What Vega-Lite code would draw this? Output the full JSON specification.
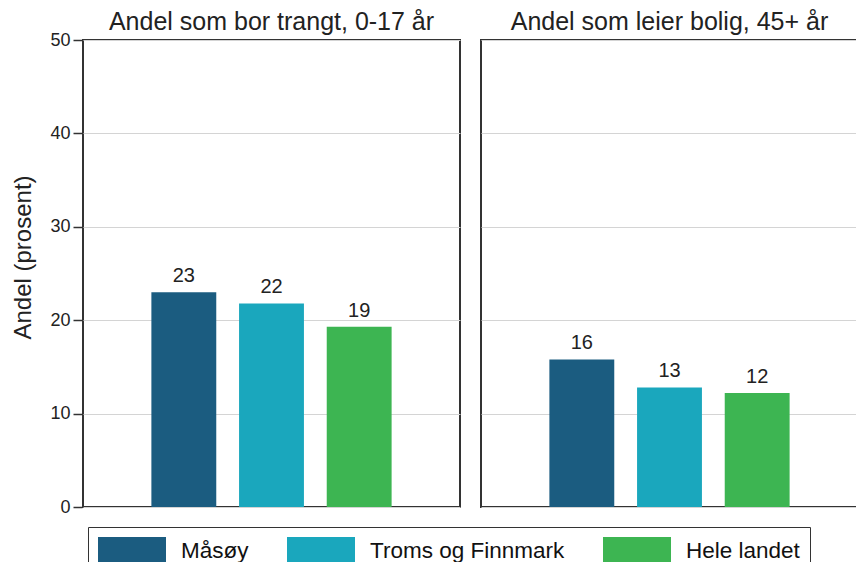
{
  "$schema": "https://vega.github.io/schema/vega-lite/v6.json",
  "background": "#ffffff",
  "padding": {"left": 11, "top": 10, "right": 0, "bottom": 0},
  "data": {"values": [
    {"panel": "Andel som bor trangt, 0-17 år", "region": "Måsøy", "value": 23.0},
    {"panel": "Andel som bor trangt, 0-17 år", "region": "Troms og Finnmark", "value": 21.8},
    {"panel": "Andel som bor trangt, 0-17 år", "region": "Hele landet", "value": 19.3},
    {"panel": "Andel som leier bolig, 45+ år", "region": "Måsøy", "value": 15.8},
    {"panel": "Andel som leier bolig, 45+ år", "region": "Troms og Finnmark", "value": 12.8},
    {"panel": "Andel som leier bolig, 45+ år", "region": "Hele landet", "value": 12.2}
  ]},
  "facet": {"column": {"field": "panel", "type": "nominal",
    "sort": ["Andel som bor trangt, 0-17 år", "Andel som leier bolig, 45+ år"],
    "header": {"title": null, "labelFontSize": 25, "labelFont": "Liberation Sans", "labelColor": "#222", "labelPadding": 4}}},
  "spacing": 19,
  "spec": {
    "width": 377,
    "height": 467,
    "encoding": {
      "x": {"field": "region", "type": "nominal", "sort": ["Måsøy", "Troms og Finnmark", "Hele landet"], "axis": null,
            "scale": {"paddingInner": 0.26, "paddingOuter": 0.78}},
      "y": {"field": "value", "type": "quantitative", "scale": {"domain": [0, 50]},
            "axis": {"title": "Andel (prosent)", "values": [0, 10, 20, 30, 40, 50], "titleFontSize": 24, "titleFontWeight": "normal",
                     "titleFont": "Liberation Sans", "titleColor": "#222", "titlePadding": 14, "titleY": 217,
                     "labelFont": "Liberation Sans", "labelFontSize": 18, "labelColor": "#222", "labelPadding": 3,
                     "domain": false, "ticks": true, "tickSize": 9, "tickColor": "#333", "tickWidth": 1.5,
                     "grid": true, "gridColor": "#d4d4d4", "gridWidth": 1}}
    },
    "layer": [
      {"mark": {"type": "bar"},
       "encoding": {"color": {"field": "region", "type": "nominal",
         "scale": {"domain": ["Måsøy", "Troms og Finnmark", "Hele landet"], "range": ["#1b5c80", "#1aa7bd", "#3db552"]},
         "legend": {"title": null, "orient": "none", "legendX": 5, "legendY": 487, "direction": "horizontal", "columns": 3,
           "columnPadding": 38, "padding": 10, "strokeColor": "#333", "fillColor": "#ffffff",
           "symbolType": "M-1,-1H3.857V1H-1Z", "symbolSize": 784, "symbolStrokeWidth": 0, "symbolOpacity": 1,
           "labelFont": "Liberation Sans", "labelFontSize": 22.5, "labelColor": "#111", "labelOffset": 55, "labelLimit": 300}}}},
      {"mark": {"type": "text", "baseline": "alphabetic", "dy": -10, "fontSize": 20, "font": "Liberation Sans", "color": "#222"},
       "encoding": {"text": {"field": "value", "type": "quantitative", "format": ".0f"}}}
    ]
  },
  "config": {"view": {"stroke": "#333", "strokeWidth": 2}}
}
